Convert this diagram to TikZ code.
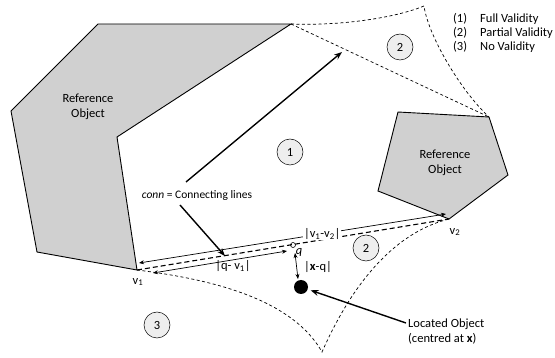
\documentclass[tikz,border=0pt]{standalone}
\usepackage{fontspec}
\setmainfont{Carlito}
\usetikzlibrary{arrows.meta}
\definecolor{refgray}{RGB}{208,208,208}
\definecolor{zonegray}{RGB}{238,238,238}
\begin{document}
\begin{tikzpicture}[x=1pt,y=-1pt,
  font=\fontsize{12.5}{15}\selectfont,
  refobj/.style={draw=black, line width=0.9pt, fill=refgray, line join=miter},
  region/.style={dash pattern=on 3pt off 2.5pt, line width=0.7pt},
  conline/.style={dash pattern=on 5pt off 3pt, line width=1.1pt},
  meas/.style={{Stealth[length=5pt,width=4pt]}-{Stealth[length=5pt,width=4pt]}, line width=0.7pt},
  bigarrow/.style={-{Stealth[length=8pt,width=6pt]}, line width=1.4pt},
  zone/.style={circle, draw, fill=zonegray, minimum size=26pt, inner sep=0pt, line width=0.5pt},
  lbl/.style={inner sep=1pt}]
\useasboundingbox (0,0) rectangle (555,358);
% reference object (left)
\coordinate (L1) at (98,24);
\coordinate (L2) at (291,24);
\coordinate (L3) at (117,137);
\coordinate (v1) at (137,270);
\coordinate (L5) at (37,252);
\coordinate (L6) at (11,111);
\draw[refobj] (L1) -- (L2) -- (L3) -- (v1) -- (L5) -- (L6) -- cycle;
\node[align=center, lbl] (ref1) at (88,107) {Reference\\Object};
% reference object (right)
\coordinate (P1) at (398,112);
\coordinate (P2) at (489,117);
\coordinate (P3) at (508,175);
\coordinate (v2) at (449,219);
\coordinate (P5) at (378,191);
\draw[refobj] (P1) -- (P2) -- (P3) -- (v2) -- (P5) -- cycle;
\node[align=center, lbl] (ref2) at (445,163) {Reference\\Object};
% validity regions
\coordinate (T) at (424,6);
\coordinate (C) at (322,352);
\draw[region] (L2) .. controls (340,26) and (395,18) .. (T) .. controls (428,35) and (460,90) .. (P2);
\draw[region] (L2) -- (P2);
\draw[region] (v1) .. controls (200,278) and (290,295) .. (C) .. controls (345,300) and (385,235) .. (v2);
% connecting line
\draw[conline] (v1) -- (v2);
% measurement v1-v2
\coordinate (a1) at (139,263);
\coordinate (a2) at (446,214);
\draw[meas] (a1) -- node[pos=0.597, fill=white, lbl] (d12) {|v\textsubscript{1}-v\textsubscript{2}|} (a2);
% point q
\node[circle, draw, line width=0.6pt, minimum size=5pt, inner sep=0pt] (q) at (293,245) {};
\node[lbl] (qlbl) at (299,252) {\itshape q};
\coordinate (b1) at (153,273);
\coordinate (b2) at (287,251);
\draw[meas] (b1) -- (b2);
\node[lbl] (dq1) at (233,266) {|q- v\textsubscript{1}|};
% located object
\node[circle, fill=black, minimum size=14pt, inner sep=0pt] (x) at (301,287) {};
\coordinate (xq1) at (295,253);
\coordinate (xq2) at (298,279);
\draw[meas] (xq1) -- (xq2);
\node[lbl] (dxq) at (318,267) {|\textbf{x}-q|};
\node[anchor=west, align=left, lbl] (lo) at (407,332) {Located Object\\(centred at \textbf{x})};
\coordinate (loarr) at (406,323);
\draw[bigarrow, shorten >=3pt] (loarr) -- (x);
% conn label
\node[lbl, font=\fontsize{11.5}{14}\selectfont] (conn) at (197,195) {\textit{conn} = Connecting lines};
\coordinate (cs1) at (186,182);
\coordinate (ce1) at (342,52);
\coordinate (cs2) at (180,205);
\coordinate (ce2) at (225,256);
\draw[bigarrow] (cs1) -- (ce1);
\draw[bigarrow] (cs2) -- (ce2);
% vertex labels
\node[lbl] (v1lbl) at (138,282) {v\textsubscript{1}};
\node[lbl] (v2lbl) at (455,232) {v\textsubscript{2}};
% zones
\node[zone] (z1) at (290,152) {1};
\node[zone] (z2a) at (400,47) {2};
\node[zone] (z2b) at (366,248) {2};
\node[zone] (z3) at (157,325) {3};
% legend
\node[anchor=west, lbl] (k1) at (452,19) {(1)};
\node[anchor=west, lbl] (t1) at (479,19) {Full Validity};
\node[anchor=west, lbl] (k2) at (452,33) {(2)};
\node[anchor=west, lbl] (t2) at (479,33) {Partial Validity};
\node[anchor=west, lbl] (k3) at (452,47) {(3)};
\node[anchor=west, lbl] (t3) at (479,47) {No Validity};
\end{tikzpicture}
\end{document}
